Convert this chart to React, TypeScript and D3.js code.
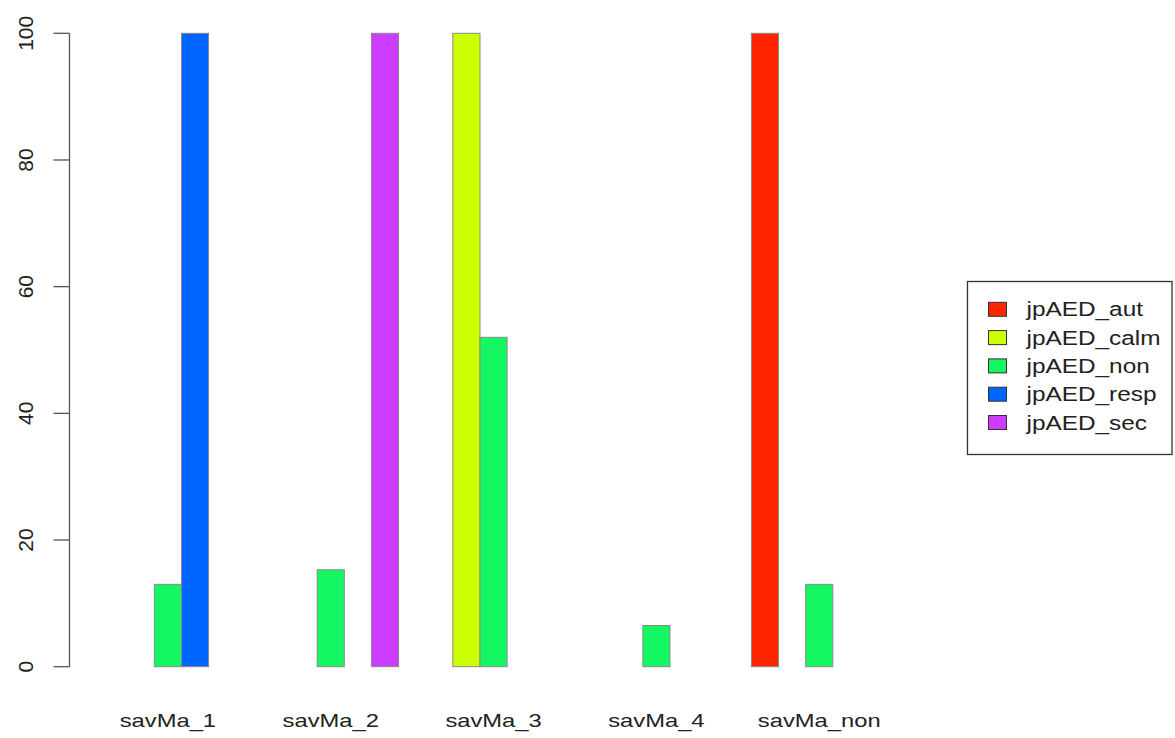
import React from "react";
import * as d3 from "d3";

const categories = ["savMa_1", "savMa_2", "savMa_3", "savMa_4", "savMa_non"];
const seriesNames = ["jpAED_aut", "jpAED_calm", "jpAED_non", "jpAED_resp", "jpAED_sec"];
const seriesColors = ["#FF2400", "#CCFF00", "#14F763", "#0064FF", "#CC3CFF"];
const autValues = [0, 0, 0, 0, 100];
const calmValues = [0, 0, 100, 0, 0];
const nonValues = [13.0, 15.3, 52.0, 6.5, 13.0];
const respValues = [100, 0, 0, 0, 0];
const secValues = [0, 100, 0, 0, 0];
const seriesValues = [autValues, calmValues, nonValues, respValues, secValues];
const yTicks = [0, 20, 40, 60, 80, 100];

const W = 1175;
const H = 738;
const SX = 1.25; // horizontal stretch of text in the reference
const FONT = "'Liberation Sans', Arial, Helvetica, sans-serif";

export default function App() {
  const nSeries = seriesNames.length;
  const groupUnits = nSeries + 1;
  const x = d3.scaleLinear().domain([0, categories.length * groupUnits]).range([72.9, 887.1]);
  const y = d3.scaleLinear().domain([0, 100]).range([666.7, 33.3]);
  const axisX = 69.5;

  const bars: React.ReactNode[] = [];
  categories.forEach((c, g) => {
    seriesValues.forEach((vals, s) => {
      const v = vals[g];
      if (v <= 0) return;
      const u0 = g * groupUnits + 1 + s;
      bars.push(
        <rect
          key={`${g}-${s}`}
          x={x(u0)}
          y={y(v)}
          width={x(u0 + 1) - x(u0)}
          height={y(0) - y(v)}
          fill={seriesColors[s]}
          stroke="#8a8a8a"
          strokeWidth={1}
        />
      );
    });
  });

  const legendTop = 309.3;
  const legendStep = 28.3;

  return (
    <div style={{ position: "absolute", left: 0, top: 0 }}>
      <svg width={W} height={H} style={{ display: "block", background: "#fff" }}>
        <rect x={0} y={0} width={W} height={H} fill="#fff" />
        {bars}
        {/* y axis */}
        <g stroke="#555" strokeWidth={1.3} fill="none">
          <line x1={axisX} x2={axisX} y1={y(0)} y2={y(100)} />
          {yTicks.map((t) => (
            <line key={t} x1={axisX - 16} x2={axisX} y1={y(t)} y2={y(t)} />
          ))}
        </g>
        {yTicks.map((t) => (
          <text
            key={t}
            transform={`translate(${32.5},${y(t)}) rotate(-90)`}
            textAnchor="middle"
            fontFamily={FONT}
            fontSize={21}
            fill="#222"
          >
            {t}
          </text>
        ))}
        {/* category labels */}
        {categories.map((c, g) => {
          const mid = x(g * groupUnits + 1 + nSeries / 2);
          return (
            <text
              key={c}
              transform={`translate(${mid},${726.7}) scale(${SX},1)`}
              textAnchor="middle"
              fontFamily={FONT}
              fontSize={19}
              fill="#222"
            >
              {c}
            </text>
          );
        })}
        {/* legend */}
        <rect x={967.5} y={281.5} width={204.5} height={173} fill="#fff" stroke="#333" strokeWidth={1.3} />
        {seriesNames.map((n, i) => {
          const cy = legendTop + i * legendStep;
          return (
            <g key={n}>
              <rect x={988.5} y={cy - 7} width={18} height={14} fill={seriesColors[i]} stroke="#333" strokeWidth={1} />
              <text
                transform={`translate(${1026.5},${cy + 7}) scale(${SX},1)`}
                fontFamily={FONT}
                fontSize={19.5}
                fill="#222"
              >
                {n}
              </text>
            </g>
          );
        })}
      </svg>
    </div>
  );
}
